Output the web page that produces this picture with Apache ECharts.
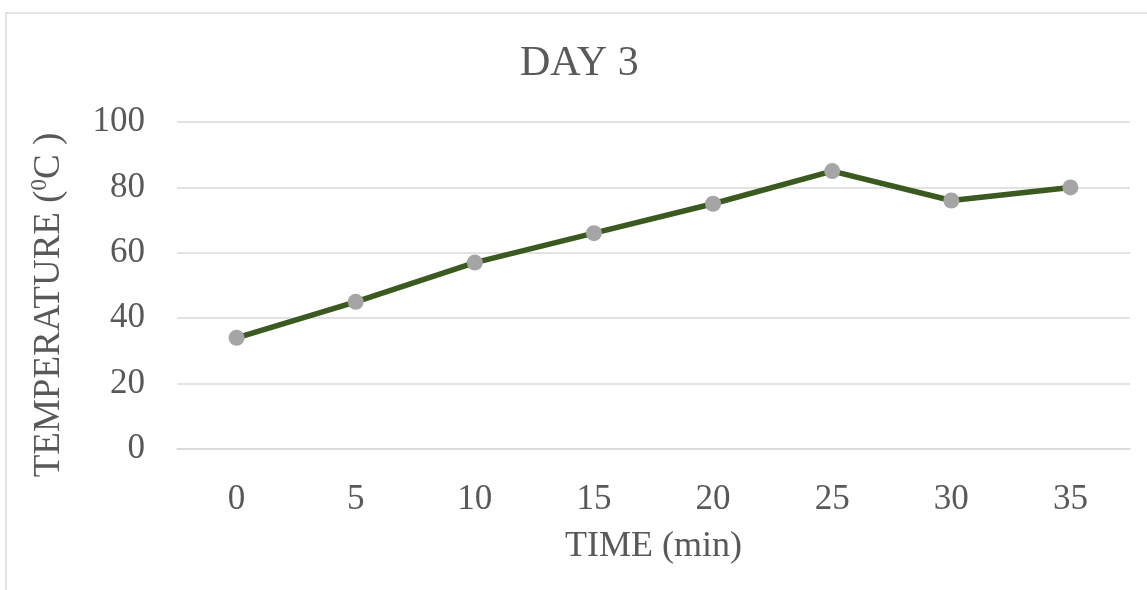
<!DOCTYPE html>
<html>
<head>
<meta charset="utf-8">
<script src="https://cdn.jsdelivr.net/npm/echarts@6/dist/echarts.min.js"></script>
<style>html,body{margin:0;padding:0;background:#fff}#c{width:1147px;height:590px}</style>
</head>
<body>
<div id="c"></div>
<script>
const categories = ['0', '5', '10', '15', '20', '25', '30', '35'];
const temperature = [34, 45, 57, 66, 75, 85, 76, 80];
const chartTitle = 'DAY 3';
const xTitle = 'TIME (min)';

const font = '"Liberation Serif", "Times New Roman", serif';
const txt = '#595959';
const chart = echarts.init(document.getElementById('c'));
chart.setOption({
  animation: false,
  backgroundColor: '#fff',
  title: {
    text: chartTitle, left: 520, top: 43, padding: 0,
    textStyle: { fontFamily: font, fontSize: 42, fontWeight: 'normal', color: txt }
  },
  grid: { left: 177, right: 17, top: 122, bottom: 141 },
  xAxis: {
    type: 'category', data: categories, boundaryGap: true,
    axisLine: { show: true, lineStyle: { color: '#D9D9D9', width: 1.5 } },
    axisTick: { show: false },
    axisLabel: { fontFamily: font, fontSize: 35, color: txt, margin: 33 },
    name: xTitle, nameLocation: 'middle', nameGap: 80,
    nameTextStyle: { fontFamily: font, fontSize: 36, color: txt }
  },
  yAxis: {
    type: 'value', min: 0, max: 100, interval: 20,
    axisLine: { show: false }, axisTick: { show: false },
    axisLabel: { fontFamily: font, fontSize: 35, color: txt, margin: 32 },
    splitLine: { lineStyle: { color: '#D9D9D9', width: 1.5 } }
  },
  graphic: [
    { type: 'rect', shape: { x: 6, y: 13, width: 1200, height: 700 },
      style: { fill: 'none', stroke: '#D9D9D9', lineWidth: 1.5 }, silent: true },
    { type: 'text', x: 47, y: 305, rotation: Math.PI / 2,
      style: {
        text: '{a|TEMPERATURE (}{s|0}{a|C )}',
        align: 'center', verticalAlign: 'middle',
        rich: {
          a: { fontFamily: font, fontSize: 37, fill: txt, lineHeight: 42, verticalAlign: 'bottom' },
          s: { fontFamily: font, fontSize: 23, fill: txt, lineHeight: 42, verticalAlign: 'top', padding: [2, 0, 0, 0] }
        }
      }
    }
  ],
  series: [{
    type: 'line', data: temperature,
    lineStyle: { color: '#3B5A1F', width: 5.5 },
    itemStyle: { color: '#A5A5A5', borderColor: '#A5A5A5', borderWidth: 0 },
    symbol: 'circle', symbolSize: 16, showSymbol: true
  }]
});
</script>
</body>
</html>
